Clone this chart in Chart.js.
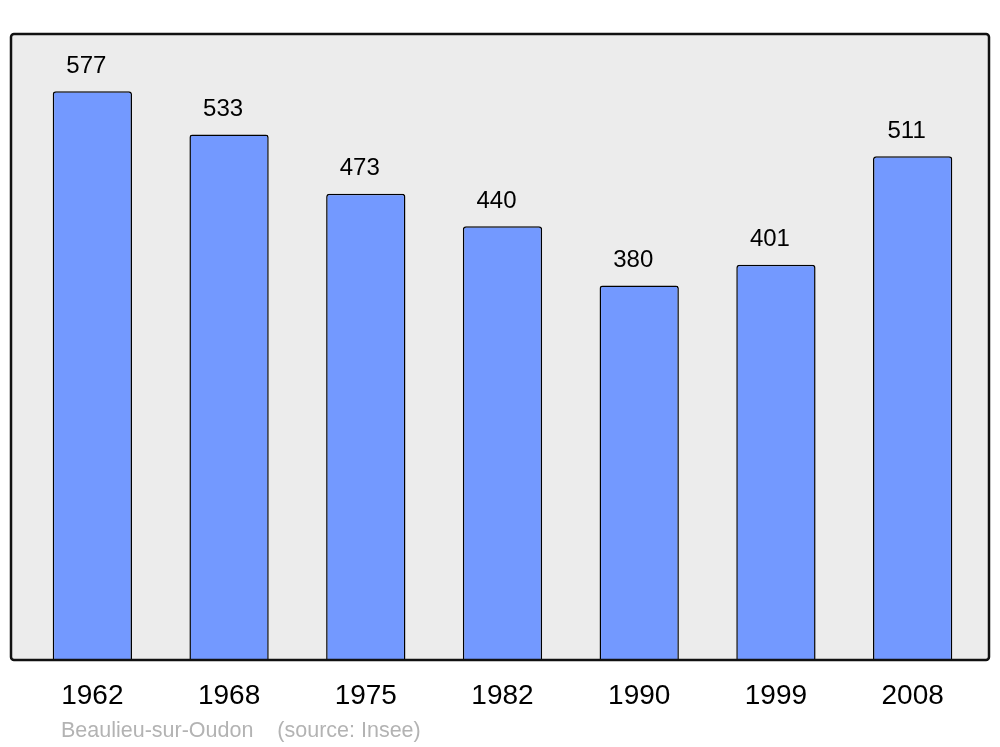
<!DOCTYPE html>
<html>
<head>
<meta charset="utf-8">
<script src="https://cdn.jsdelivr.net/npm/chart.js@4.4.1/dist/chart.umd.min.js"></script>
<style>
  html, body { margin: 0; padding: 0; background: #fff; }
  #wrap { width: 1000px; height: 747px; }
</style>
</head>
<body>
<div id="wrap"><canvas id="popChart" width="1000" height="747"></canvas></div>
<script>
// Données : population par année de recensement
const years = ['1962', '1968', '1975', '1982', '1990', '1999', '2008'];
const population = [577, 533, 473, 440, 380, 401, 511];
const footerText = 'Beaulieu-sur-Oudon    (source: Insee)';

// Cadre gris derrière les barres
const framePlugin = {
    id: 'frame',
    beforeDatasetsDraw(chart) {
        const c = chart.ctx;
        c.save();
        c.fillStyle = '#ececec';
        c.beginPath();
        c.roundRect(11, 34, 978, 626, 3);
        c.fill();
        c.restore();
    },
    afterDatasetsDraw(chart) {
        const c = chart.ctx;
        const meta = chart.getDatasetMeta(0);
        c.save();
        // valeurs au-dessus des barres
        c.fillStyle = '#000';
        c.font = '24px "Liberation Sans", Arial, sans-serif';
        c.textAlign = 'center';
        c.textBaseline = 'middle';
        meta.data.forEach((bar, i) => {
            c.fillText(String(population[i]), bar.x - 6, bar.y - 25);
        });
        // bordure du cadre
        c.strokeStyle = '#111';
        c.lineWidth = 2.5;
        c.beginPath();
        c.roundRect(11, 34, 978, 626, 3);
        c.stroke();
        // source
        c.fillStyle = '#b3b3b3';
        c.font = '21.5px "Liberation Sans", Arial, sans-serif';
        c.textAlign = 'left';
        c.fillText(footerText, 61, 731);
        c.restore();
    }
};

new Chart(document.getElementById('popChart'), {
    type: 'bar',
    data: {
        labels: years,
        datasets: [{
            data: population,
            backgroundColor: '#7399ff',
            borderColor: '#000',
            borderWidth: 1.5,
            borderRadius: { topLeft: 3, topRight: 3 },
            borderSkipped: 'bottom',
            categoryPercentage: 1,
            barPercentage: 0.58
        }]
    },
    options: {
        responsive: false,
        animation: false,
        layout: { padding: { left: 24, right: 19, top: 34, bottom: 0 } },
        plugins: {
            legend: { display: false },
            tooltip: { enabled: false }
        },
        scales: {
            x: {
                offset: true,
                grid: { display: false, drawTicks: false },
                border: { display: false },
                ticks: {
                    color: '#000',
                    padding: 19,
                    font: { size: 28, family: '"Liberation Sans", Arial, sans-serif' }
                },
                afterFit(scale) { scale.height = 87; }
            },
            y: {
                display: false,
                min: 0,
                max: 635
            }
        }
    },
    plugins: [framePlugin]
});
</script>
</body>
</html>
